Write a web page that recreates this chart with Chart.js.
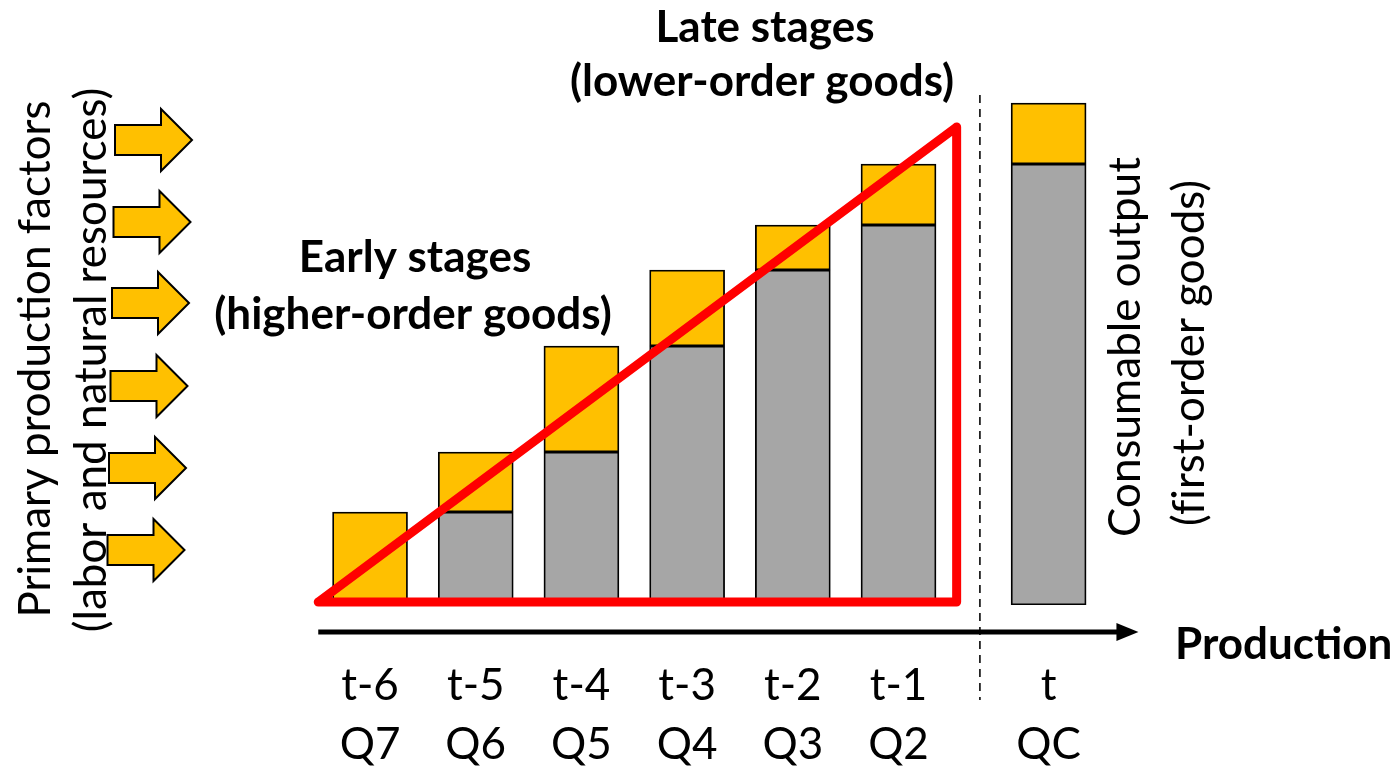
<!DOCTYPE html>
<html>
<head>
<meta charset="utf-8">
<script src="https://cdn.jsdelivr.net/npm/chart.js@4/dist/chart.umd.min.js"></script>
<style>
    body { margin: 0; background: #fff; }
    #wrap { width: 1399px; height: 766px; }
</style>
</head>
<body>
<div id="wrap"><canvas id="chart" width="1399" height="766"></canvas></div>
<script>
// Production stages (x positions on a linear axis, t sits apart after the divider)
const stageX = [0, 1, 2, 3, 4, 5, 6.42];
const stageLabels = ['t-6', 't-5', 't-4', 't-3', 't-2', 't-1', 't'];
const qtyLabels = ['Q7', 'Q6', 'Q5', 'Q4', 'Q3', 'Q2', 'QC'];

// Stacked values: gray = input from previous stage, yellow = value added
const carried = [null, 93, 153, 259, 335, 380, 441];
const added = [93, 60, 106, 76, 45, 61, 61];

// Red triangle outline
const triX = [-0.49, 5.55, 5.55, -0.49];
const triY = [3, 478, 3, 3];

// Dashed divider between t-1 and t
const dividerX = [5.77, 5.77];
const dividerY = [510, -95];

const YELLOW = '#FFC000';
const GRAY = '#A6A6A6';
const RED = '#FF0000';
const FONT = 'Lato, "Open Sans", sans-serif';

const toPoints = (xs, ys) => xs.map((x, i) => ({ x: x, y: ys[i] }));

// Decorations: input arrows, rotated side texts, stage captions, production arrow
const decorPlugin = {
    id: 'decor',
    afterDraw(chart) {
        const ctx = chart.ctx;
        const xs = chart.scales.x;
        const area = chart.chartArea;
        ctx.save();

        // block arrows on the left
        const arrowY = [140, 222, 303, 386, 468, 550];
        arrowY.forEach((cy, i) => {
            const d = i * 1.5;
            const xl = 115 - d, xh = 161 - d, xt = 192 - d;
            ctx.beginPath();
            ctx.moveTo(xl, cy - 15);
            ctx.lineTo(xh, cy - 15);
            ctx.lineTo(xh, cy - 31);
            ctx.lineTo(xt, cy);
            ctx.lineTo(xh, cy + 31);
            ctx.lineTo(xh, cy + 15);
            ctx.lineTo(xl, cy + 15);
            ctx.closePath();
            ctx.fillStyle = YELLOW;
            ctx.fill();
            ctx.lineWidth = 2;
            ctx.strokeStyle = '#000';
            ctx.stroke();
        });

        // rotated texts
        const rotText = (txt, x, y, font) => {
            ctx.save();
            ctx.translate(x, y);
            ctx.rotate(-Math.PI / 2);
            ctx.font = font;
            ctx.fillStyle = '#000';
            ctx.textAlign = 'center';
            ctx.textBaseline = 'middle';
            ctx.fillText(txt, 0, 0);
            ctx.restore();
        };
        rotText('Primary production factors', 36, 359, '44px ' + FONT);
        rotText('(labor and natural resources)', 92, 360, '44px ' + FONT);
        rotText('Consumable output', 1126, 347, '44px ' + FONT);
        rotText('(f\u200Cirst-order goods)', 1190, 353, '44px ' + FONT);

        // bold captions
        ctx.fillStyle = '#000';
        ctx.textAlign = 'center';
        ctx.textBaseline = 'middle';
        ctx.font = 'bold 44px ' + FONT;
        ctx.fillText('Late stages', 765, 28);
        ctx.fillText('(lower-order goods)', 762, 82);
        ctx.fillText('Early stages', 415, 258);
        ctx.fillText('(higher-order goods)', 413, 315);
        ctx.textAlign = 'left';
        ctx.fillText('Production', 1175, 645);

        // production arrow under the bars
        const ay = area.bottom + 27;
        const ax0 = xs.getPixelForValue(triX[0]);
        const ax1 = xs.getPixelForValue(7.27);
        ctx.strokeStyle = '#000';
        ctx.lineWidth = 5;
        ctx.beginPath();
        ctx.moveTo(ax0, ay);
        ctx.lineTo(ax1 - 18, ay);
        ctx.stroke();
        ctx.beginPath();
        ctx.moveTo(ax1, ay);
        ctx.lineTo(ax1 - 22, ay - 9);
        ctx.lineTo(ax1 - 22, ay + 9);
        ctx.closePath();
        ctx.fillStyle = '#000';
        ctx.fill();

        ctx.restore();
    }
};

new Chart(document.getElementById('chart'), {
    type: 'bar',
    data: {
        datasets: [
            {
                type: 'line',
                label: 'triangle',
                data: toPoints(triX, triY),
                borderColor: RED,
                borderWidth: 9,
                borderJoinStyle: 'round',
                borderCapStyle: 'round',
                pointRadius: 0,
                fill: false,
                tension: 0,
                stack: 'outline',
                clip: false,
                order: 0
            },
            {
                type: 'line',
                label: 'divider',
                data: toPoints(dividerX, dividerY),
                borderColor: '#222',
                borderWidth: 1.8,
                borderDash: [8, 6],
                pointRadius: 0,
                fill: false,
                stack: 'divider',
                clip: false,
                order: 2
            },
            {
                label: 'carried',
                data: toPoints(stageX, carried),
                backgroundColor: GRAY,
                borderColor: '#000',
                borderWidth: 1.8,
                borderSkipped: false,
                barThickness: 75,
                stack: 'bars',
                order: 1
            },
            {
                label: 'added',
                data: toPoints(stageX, added),
                backgroundColor: YELLOW,
                borderColor: '#000',
                borderWidth: 1.8,
                borderSkipped: false,
                barThickness: 75,
                stack: 'bars',
                order: 1
            }
        ]
    },
    options: {
        responsive: false,
        animation: false,
        layout: { padding: { left: 211.5, right: 236.25, top: 5, bottom: 0 } },
        plugins: {
            legend: { display: false },
            tooltip: { enabled: false }
        },
        scales: {
            x: {
                type: 'linear',
                min: -1.5,
                max: 7.5,
                offset: false,
                stacked: true,
                grid: { display: false, drawTicks: false },
                border: { display: false },
                afterBuildTicks(scale) {
                    scale.ticks = stageX.map(v => ({ value: v }));
                },
                afterFit(scale) {
                    scale.height = 161;
                },
                ticks: {
                    autoSkip: false,
                    maxRotation: 0,
                    padding: 51,
                    color: '#000',
                    font: { family: FONT, size: 44, lineHeight: 1.34 },
                    callback: (value, index) => [stageLabels[index], qtyLabels[index]]
                }
            },
            y: {
                display: false,
                stacked: true,
                min: 0,
                max: 600
            }
        }
    },
    plugins: [decorPlugin]
});
</script>
</body>
</html>
